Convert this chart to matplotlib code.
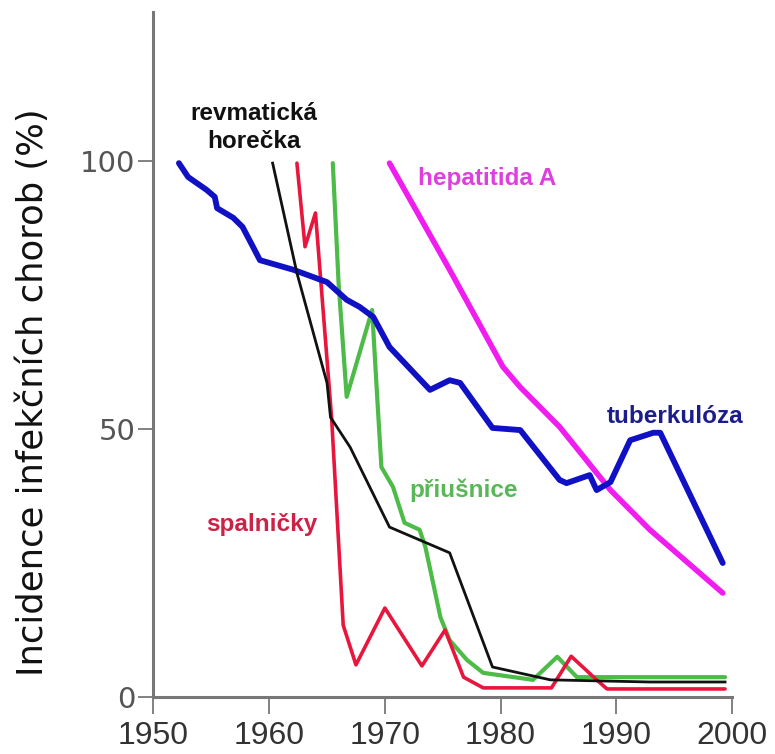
import matplotlib
matplotlib.use("Agg")
import matplotlib.pyplot as plt

# values (year, incidence in %)
tbc_years = [1952.2, 1953.0, 1954.6, 1955.3, 1955.5, 1956.9, 1957.7, 1958.6, 1959.2, 1962.1,
             1965.0, 1966.7, 1967.8, 1969.0, 1970.4, 1973.9, 1975.6, 1976.5, 1979.3, 1981.7,
             1985.1, 1985.7, 1987.7, 1988.3, 1989.5, 1991.2, 1993.2, 1993.8, 1999.2]
tbc_vals = [99.6, 97.0, 94.6, 93.3, 91.2, 89.4, 87.7, 84.0, 81.5, 79.7,
            77.4, 74.1, 72.8, 70.9, 65.3, 57.3, 59.1, 58.6, 50.2, 49.8,
            40.5, 39.9, 41.4, 38.6, 40.1, 47.9, 49.3, 49.3, 25.0]

hep_years = [1970.4, 1975.6, 1980.2, 1981.7, 1985.1, 1989.5, 1992.9, 1999.2]
hep_vals = [99.6, 79.7, 61.6, 57.8, 50.4, 38.6, 31.2, 19.4]

rev_years = [1960.3, 1962.4, 1965.0, 1965.3, 1967.0, 1970.4, 1975.6, 1979.3, 1984.3, 1992.9, 1999.4]
rev_vals = [99.6, 79.1, 58.6, 52.2, 46.6, 31.7, 26.9, 5.6, 3.2, 2.8, 2.8]

spal_years = [1962.4, 1963.1, 1964.0, 1965.4, 1966.4, 1967.5, 1970.0, 1973.2, 1975.2, 1976.8, 1978.5,
              1984.4, 1986.1, 1988.3, 1989.2, 1999.4]
spal_vals = [99.6, 84.0, 90.3, 52.0, 13.4, 6.0, 16.6, 5.8, 12.5, 3.7, 1.7,
             1.7, 7.6, 3.2, 1.5, 1.5]

priu_years = [1965.5, 1966.0, 1966.7, 1968.9, 1969.3, 1969.7, 1970.7, 1971.7, 1973.0, 1973.5,
              1974.8, 1975.6, 1977.1, 1978.5, 1982.8, 1984.9, 1986.6, 1999.4]
priu_vals = [99.6, 77.2, 56.0, 72.2, 57.3, 42.9, 39.2, 32.5, 31.2, 28.0,
             14.9, 10.6, 6.9, 4.5, 3.2, 7.5, 3.7, 3.7]

x_ticks = [1950, 1960, 1970, 1980, 1990, 2000]
y_ticks = [0, 50, 100]

fig = plt.figure(figsize=(7.75, 7.54), dpi=100)
ax = fig.add_axes([0.198, 0.0756, 0.7465, 0.9085])

ax.plot(hep_years, hep_vals, color="#f01cf0", lw=4.0, solid_capstyle="round", zorder=2)
ax.plot(tbc_years, tbc_vals, color="#1010c4", lw=4.2, solid_capstyle="round", zorder=3)
ax.plot(priu_years, priu_vals, color="#4cbb48", lw=3.0, solid_capstyle="round", zorder=2)
ax.plot(spal_years, spal_vals, color="#e8163c", lw=2.6, solid_capstyle="round", zorder=2)
ax.plot(rev_years, rev_vals, color="#111111", lw=2.0, zorder=4)

lbl = dict(family="Liberation Sans", fontweight="bold", fontsize=17.5, ha="center", va="center")
ax.text(1958.7, 106.2, "revmatická\nhorečka", color="#111111", linespacing=1.3, **lbl)
ax.text(1978.8, 96.8, "hepatitida A", color="#dd40dd", **lbl)
ax.text(1995.1, 52.4, "tuberkulóza", color="#1c1c8c", **lbl)
ax.text(1976.8, 38.6, "přiušnice", color="#58b858", **lbl)
ax.text(1959.4, 32.1, "spalničky", color="#cc2246", **lbl)

ax.set_xlim(1950, 2000)
ax.set_ylim(0, 127.8)
ax.set_xticks(x_ticks)
ax.set_yticks(y_ticks)
ax.set_xticklabels([str(t) for t in x_ticks], family="Liberation Sans", fontsize=23, color="#333333")
ax.set_yticklabels([str(t) for t in y_ticks], family="DejaVu Sans", fontsize=21, color="#555555")
ax.tick_params(axis="both", direction="out", width=1.3, color="#777777")
ax.tick_params(axis="x", length=12, pad=5)
ax.tick_params(axis="y", length=11, pad=2)

for side in ["top", "right"]:
    ax.spines[side].set_visible(False)
for side in ["left", "bottom"]:
    ax.spines[side].set_color("#777777")
    ax.spines[side].set_linewidth(2.2)

ax.set_ylabel("Incidence infekčních chorob (%)", family="DejaVu Sans", fontsize=25.5, color="#111111")
ax.yaxis.set_label_coords(-0.179, 0.445)

fig.savefig("out.png", dpi=100)
